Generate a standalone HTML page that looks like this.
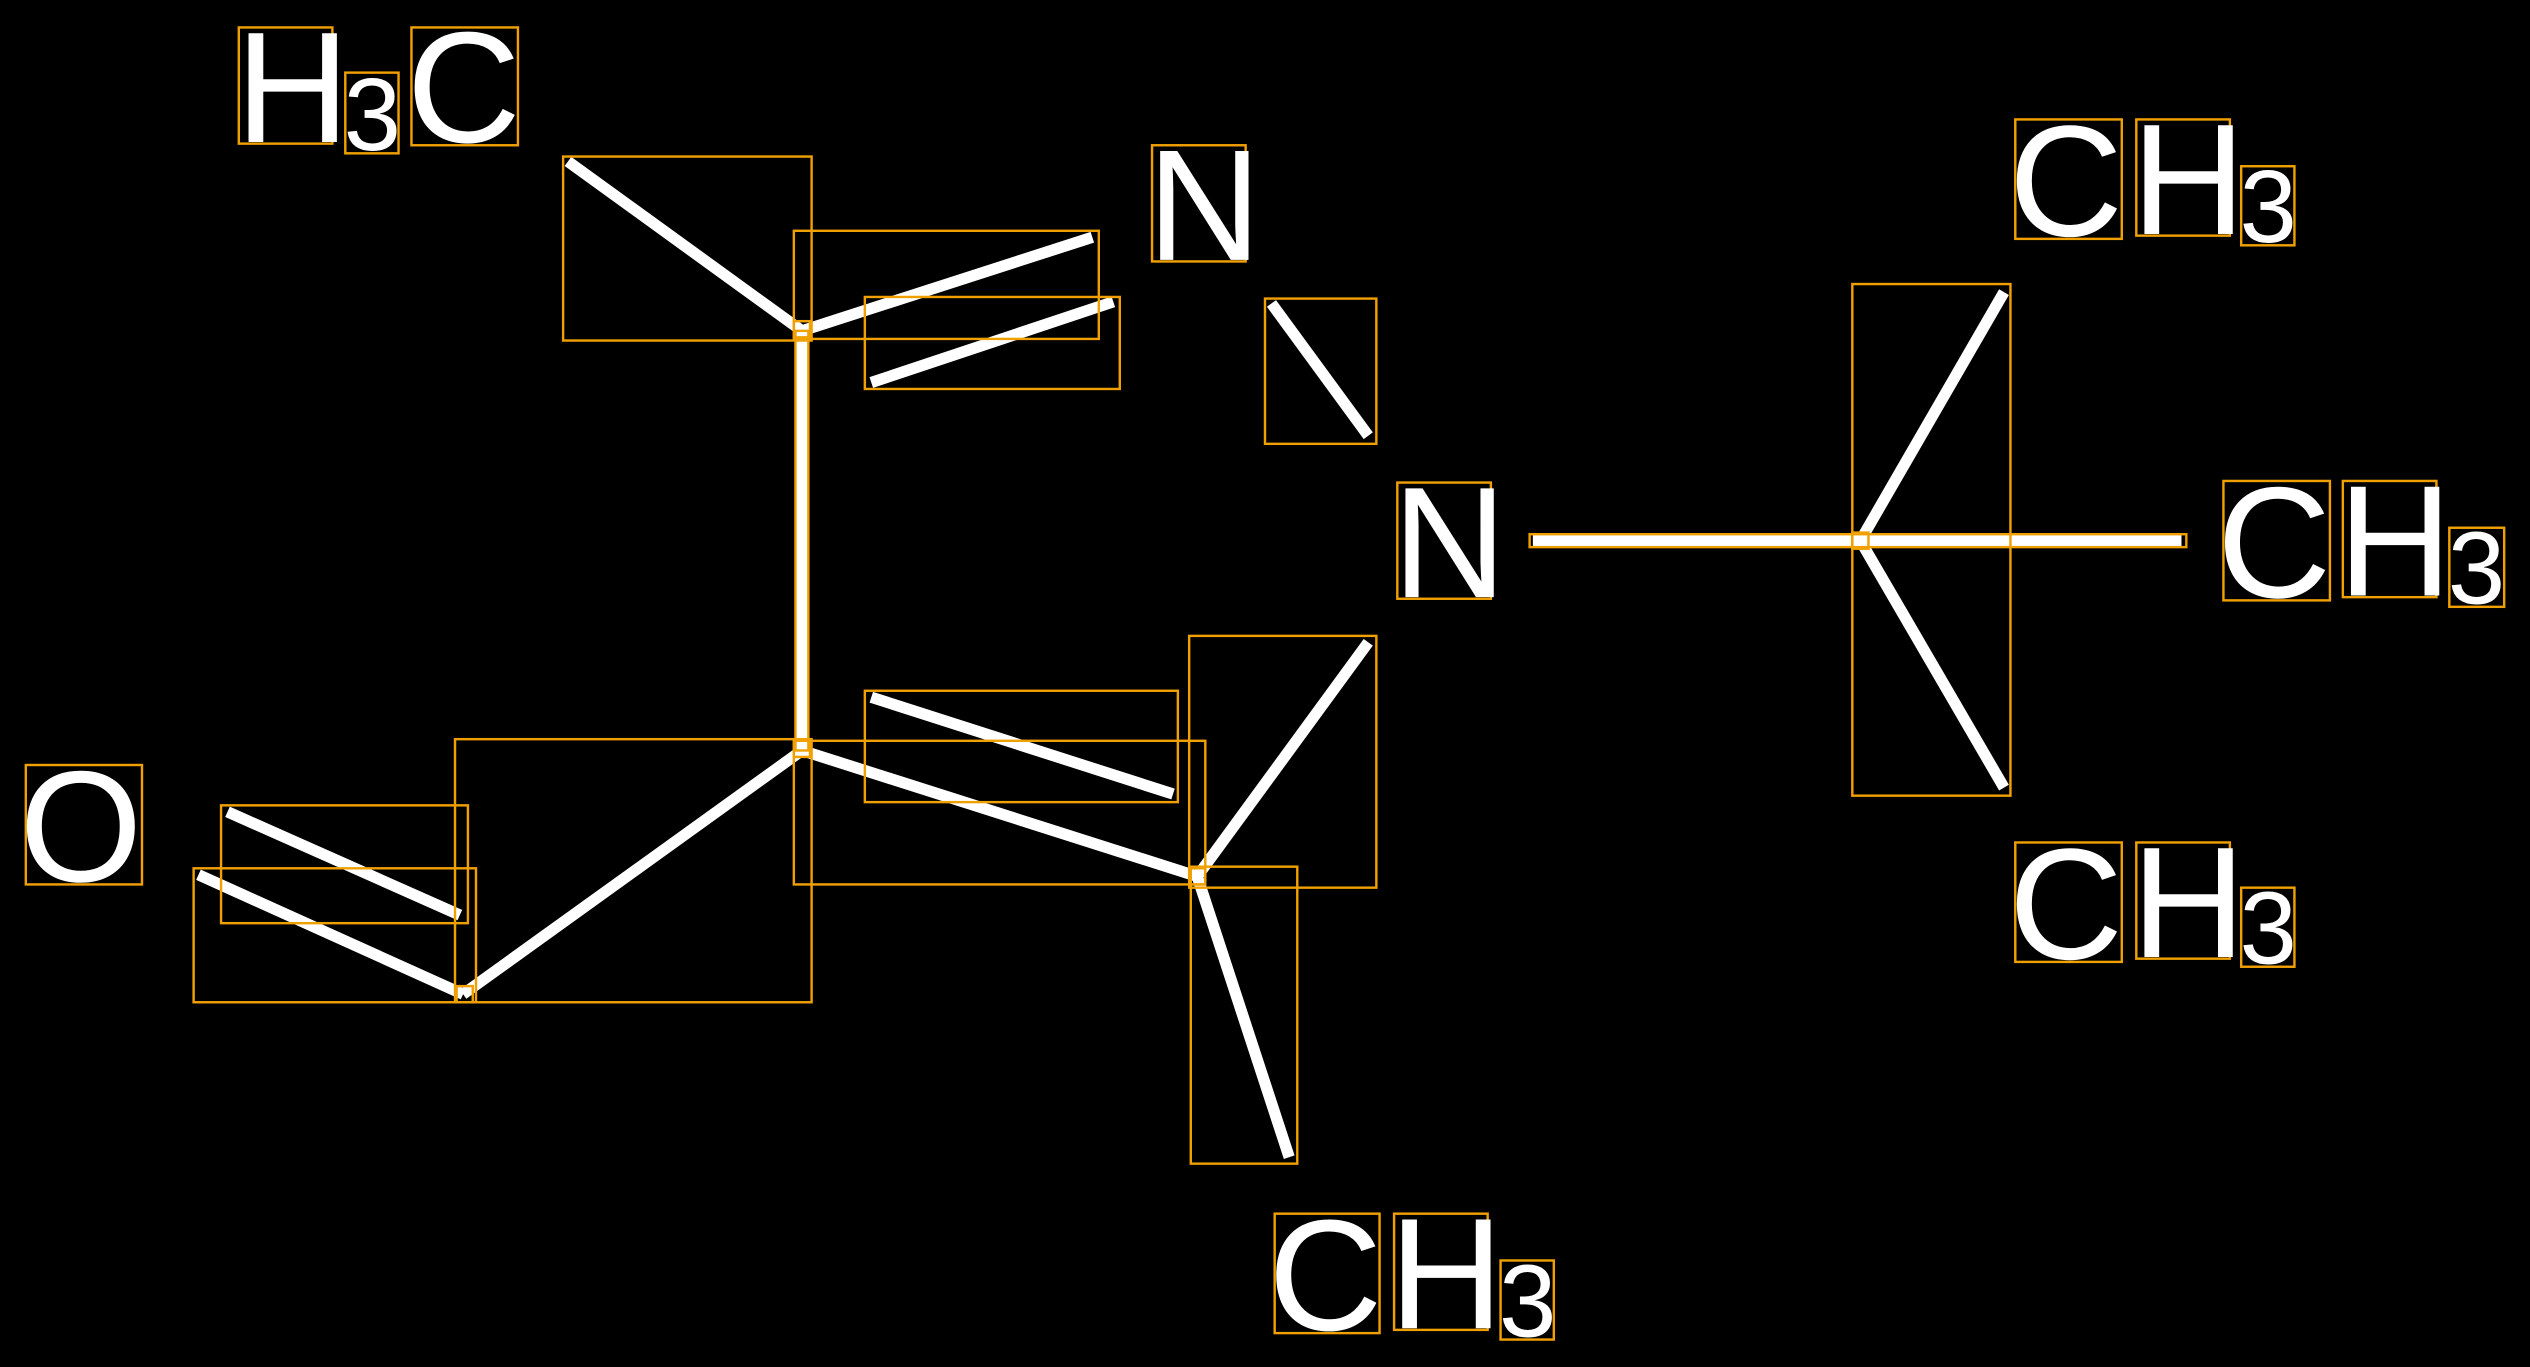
<!DOCTYPE html>
<html><head><meta charset="utf-8"><style>
html,body{margin:0;padding:0;background:#000;}
svg{display:block;}
text{font-family:"Liberation Sans",sans-serif;fill:#fff;}
</style></head><body>
<svg width="2530" height="1367" viewBox="0 0 1568 847" preserveAspectRatio="none" xmlns="http://www.w3.org/2000/svg">
<rect width="1568" height="847" fill="#000"/>
<g stroke="#fff" stroke-width="7" stroke-linecap="butt">
<line x1="352" y1="100" x2="497" y2="205"/>
<line x1="497" y1="205" x2="677" y2="147"/>
<line x1="540" y1="237" x2="690" y2="187"/>
<line x1="497" y1="205" x2="497" y2="465"/>
<line x1="497" y1="465" x2="287" y2="616"/>
<line x1="285" y1="567" x2="141" y2="503"/>
<line x1="287" y1="616" x2="123" y2="542"/>
<line x1="497" y1="465" x2="742" y2="543"/>
<line x1="540" y1="432" x2="727" y2="492"/>
<line x1="742" y1="543" x2="848" y2="398"/>
<line x1="742" y1="543" x2="799" y2="717"/>
<line x1="788" y1="188" x2="848" y2="270"/>
<line x1="950" y1="335" x2="1352" y2="335"/>
<line x1="1153" y1="335" x2="1242" y2="181"/>
<line x1="1153" y1="335" x2="1242" y2="488"/>
</g>
<g fill="none" stroke="#f0a000" stroke-width="1.5">
<rect x="349" y="97" width="154" height="114"/>
<rect x="492" y="143" width="189" height="67"/>
<rect x="536" y="184" width="158" height="57"/>
<rect x="282" y="458" width="221" height="163"/>
<rect x="137" y="499" width="153" height="73"/>
<rect x="120" y="538" width="175" height="83"/>
<rect x="536" y="428" width="194" height="69"/>
<rect x="492" y="459" width="255" height="89"/>
<rect x="737" y="394" width="116" height="156"/>
<rect x="738" y="537" width="66" height="184"/>
<rect x="784" y="185" width="69" height="90"/>
<rect x="1148" y="176" width="98" height="317"/>
<rect x="948" y="331" width="407" height="8"/>
<rect x="493" y="205" width="8" height="260"/>
<rect x="492" y="199" width="10" height="10"/>
<rect x="492" y="459" width="10" height="10"/>
<rect x="737" y="538" width="10" height="10"/>
<rect x="283" y="611" width="10" height="10"/>
<rect x="1148" y="330" width="10" height="10"/>
<rect x="148" y="17" width="58" height="72"/>
<rect x="214" y="45" width="33" height="50"/>
<rect x="255" y="17" width="66" height="73"/>
<rect x="714" y="90" width="58" height="72"/>
<rect x="866" y="299" width="58" height="72"/>
<rect x="16" y="474" width="72" height="74"/>
<rect x="1249" y="74" width="66" height="74"/>
<rect x="1324" y="74" width="58" height="72"/>
<rect x="1389" y="103" width="33" height="49"/>
<rect x="1378" y="298" width="66" height="74"/>
<rect x="1452" y="298" width="58" height="72"/>
<rect x="1518" y="327" width="34" height="49"/>
<rect x="1249" y="522" width="66" height="74"/>
<rect x="1324" y="522" width="58" height="72"/>
<rect x="1389" y="550" width="33" height="49"/>
<rect x="790" y="752" width="65" height="74"/>
<rect x="864" y="752" width="58" height="72"/>
<rect x="930" y="781" width="33" height="49"/>
</g>
<g font-size="98">
<text x="146" y="88">H</text>
<text x="252" y="88">C</text>
<text x="711" y="161">N</text>
<text x="863" y="370">N</text>
<text x="12" y="546">O</text>
<text x="1245" y="146">C</text><text x="1321" y="145">H</text>
<text x="1374" y="370">C</text><text x="1449" y="369">H</text>
<text x="1245" y="594">C</text><text x="1321" y="593">H</text>
<text x="786" y="824">C</text><text x="861" y="823">H</text>
</g>
<g font-size="64">
<text x="213" y="93">3</text>
<text x="1388" y="150">3</text>
<text x="1517" y="374">3</text>
<text x="1388" y="597">3</text>
<text x="929" y="828">3</text>
</g>
</svg>
</body></html>
